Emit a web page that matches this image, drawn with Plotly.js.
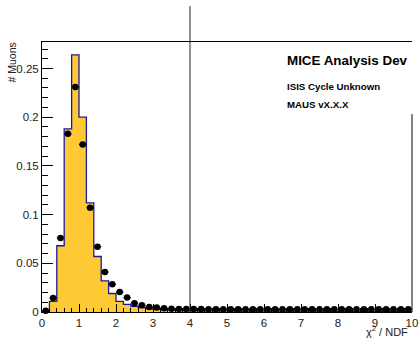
<!DOCTYPE html>
<html>
<head>
<meta charset="utf-8">
<script src="https://cdn.plot.ly/plotly-3.0.1.min.js"></script>
<style>
  html, body { margin: 0; padding: 0; background: #fff; }
  #chart { width: 419px; height: 338px; }
</style>
</head>
<body>
<div id="chart"></div>
<script>
// chi2/NDF histogram: 50 bins of width 0.2 between 0 and 10
const binWidth = 0.2;
const xMin = 0;

// Simulation (filled histogram), fraction of muons per bin
const simFraction = [
  0.0003, 0.011, 0.068, 0.188, 0.264, 0.200, 0.112, 0.057, 0.032, 0.019,
  0.011, 0.0079, 0.0058, 0.0045, 0.0035, 0.0028, 0.0024, 0.0020, 0.0017, 0.0015,
  0.0014, 0.0013, 0.0012, 0.0012, 0.0011, 0.0011, 0.0010, 0.0010, 0.0010, 0.0009,
  0.0009, 0.0009, 0.0009, 0.0008, 0.0008, 0.0008, 0.0008, 0.0008, 0.0007, 0.0007,
  0.0007, 0.0007, 0.0007, 0.0007, 0.0006, 0.0006, 0.0006, 0.0006, 0.0006, 0.0006
];

// Data (points), fraction of muons per bin
const dataFraction = [
  0.0012, 0.0144, 0.076, 0.183, 0.231, 0.172, 0.107, 0.067, 0.041, 0.0284,
  0.0205, 0.0148, 0.0090, 0.0069, 0.0052, 0.0045, 0.0038, 0.0034, 0.0032, 0.0030,
  0.0030, 0.0030, 0.0029, 0.0029, 0.0029, 0.0029, 0.0029, 0.0028, 0.0028, 0.0028,
  0.0028, 0.0028, 0.0028, 0.0028, 0.0028, 0.0028, 0.0027, 0.0027, 0.0027, 0.0027,
  0.0027, 0.0027, 0.0027, 0.0027, 0.0027, 0.0027, 0.0027, 0.0027, 0.0027, 0.0027
];

const xTickLabels = ['0','1','2','3','4','5','6','7','8','9','10'];
const boxLines = ['MICE Analysis Dev', 'ISIS Cycle Unknown', 'MAUS vX.X.X'];

// bin edges for the step outline, bin centres for the points
const edges = [];
for (let i = 0; i <= simFraction.length; i++) edges.push(xMin + i * binWidth);
const stepY = simFraction.concat([simFraction[simFraction.length - 1]]);
const centres = dataFraction.map((_, i) => xMin + (i + 0.5) * binWidth);

const font = 'Liberation Sans, Arial, Helvetica, sans-serif';

const simTrace = {
  type: 'scatter',
  mode: 'lines',
  x: edges,
  y: stepY,
  line: { shape: 'hv', color: '#1a1a9e', width: 1.3 },
  fill: 'tozeroy',
  fillcolor: '#ffc933',
  hoverinfo: 'skip'
};

const dataTrace = {
  type: 'scatter',
  mode: 'markers',
  x: centres,
  y: dataFraction,
  marker: { color: '#000', size: 6.5 },
  error_x: { type: 'constant', value: binWidth / 2, width: 0, color: '#000', thickness: 1.2 },
  cliponaxis: false
};

const layout = {
  width: 419,
  height: 338,
  margin: { l: 42, r: 7, t: 42, b: 26, pad: 0 },
  paper_bgcolor: '#fff',
  plot_bgcolor: '#fff',
  showlegend: false,
  font: { family: font, size: 11, color: '#222' },
  xaxis: {
    range: [0, 10],
    tickmode: 'array',
    tickvals: xTickLabels.map(Number),
    ticktext: xTickLabels,
    ticks: 'inside',
    ticklen: 8,
    tickwidth: 1,
    tickcolor: '#000',
    showline: true,
    linecolor: '#000',
    linewidth: 1,
    mirror: true,
    showgrid: false,
    zeroline: false,
    tickfont: { family: font, size: 11.5, color: '#222' },
    minor: { ticks: 'inside', dtick: 0.2, ticklen: 4, tickcolor: '#000', tickwidth: 1, showgrid: false }
  },
  yaxis: {
    range: [0, 0.2772],
    dtick: 0.05,
    tick0: 0,
    ticks: 'inside',
    ticklen: 11,
    tickwidth: 1,
    tickcolor: '#000',
    showline: true,
    linecolor: '#000',
    linewidth: 1,
    showgrid: false,
    zeroline: false,
    tickfont: { family: font, size: 11.5, color: '#222' },
    minor: { ticks: 'inside', dtick: 0.01, ticklen: 5.5, tickcolor: '#000', tickwidth: 1, showgrid: false }
  },
  shapes: [
    // right frame edge, stopping below the info box
    { type: 'line', xref: 'paper', yref: 'paper', x0: 1, x1: 1, y0: 0, y1: 0.733,
      line: { color: '#000', width: 1 } },
    // cut line at chi2/NDF = 4
    { type: 'line', xref: 'x', yref: 'paper', x0: 4, x1: 4, y0: 0, y1: 1.133,
      line: { color: '#222', width: 1 }, layer: 'above' }
  ],
  annotations: [
    { text: '# Muons', textangle: -90, xref: 'paper', yref: 'paper',
      x: -0.08, y: 1.007, xanchor: 'center', yanchor: 'top', showarrow: false,
      font: { family: font, size: 10.5, color: '#222' } },
    { text: 'χ<sup>2</sup> / NDF', xref: 'paper', yref: 'paper',
      x: 0.995, y: -0.071, xanchor: 'right', yanchor: 'middle', showarrow: false,
      font: { family: font, size: 11, color: '#222' } },
    { text: '<b>' + boxLines[0] + '</b>', xref: 'paper', yref: 'paper',
      x: 0.656, y: 0.93, xanchor: 'left', yanchor: 'middle', showarrow: false,
      font: { family: font, size: 13.4, color: '#000' } },
    { text: '<b>' + boxLines[1] + '</b>', xref: 'paper', yref: 'paper',
      x: 0.656, y: 0.836, xanchor: 'left', yanchor: 'middle', showarrow: false,
      font: { family: font, size: 9.7, color: '#000' } },
    { text: '<b>' + boxLines[2] + '</b>', xref: 'paper', yref: 'paper',
      x: 0.656, y: 0.767, xanchor: 'left', yanchor: 'middle', showarrow: false,
      font: { family: font, size: 9.7, color: '#000' } }
  ]
};

Plotly.newPlot('chart', [simTrace, dataTrace], layout, { staticPlot: true, displayModeBar: false });
</script>
</body>
</html>
